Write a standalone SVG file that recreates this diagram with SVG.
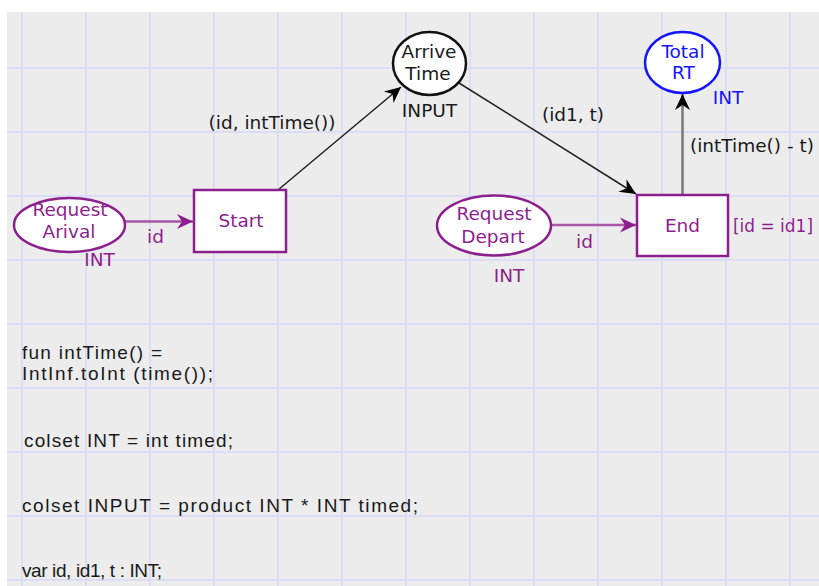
<svg xmlns="http://www.w3.org/2000/svg" width="819" height="586" viewBox="0 0 819 586">
<defs>
<style>
.t{font-family:"DejaVu Sans","Verdana",sans-serif;font-size:18.5px;}
.c{text-anchor:middle;}
.pu{fill:#8c1f8e;}
.bl{fill:#1a1a1a;}
.blue{fill:#1414ff;}
.decl{font-family:"Liberation Sans","Arial",sans-serif;font-size:19px;fill:#1a1a1a;}
.grid line{stroke:#dcdcf6;stroke-width:2;}
</style>
<marker id="ah-b" viewBox="-17 -8 18 16" refX="0" refY="0" markerWidth="18" markerHeight="16" markerUnits="userSpaceOnUse" orient="auto">
<path d="M0,0 L-16,-7.5 L-11,0 L-16,7.5 z" fill="#000"/>
</marker>
<marker id="ah-p" viewBox="-17 -8 18 16" refX="0" refY="0" markerWidth="18" markerHeight="16" markerUnits="userSpaceOnUse" orient="auto">
<path d="M0,0 L-16,-7.5 L-11,0 L-16,7.5 z" fill="#8c1f8e"/>
</marker>
</defs>
<rect x="0" y="0" width="819" height="586" fill="#fff"/>
<rect x="7" y="12" width="812" height="574" fill="#ececec"/>
<g class="grid">
<line x1="22" y1="12" x2="22" y2="586"/>
<line x1="86" y1="12" x2="86" y2="586"/>
<line x1="150" y1="12" x2="150" y2="586"/>
<line x1="214" y1="12" x2="214" y2="586"/>
<line x1="278" y1="12" x2="278" y2="586"/>
<line x1="342" y1="12" x2="342" y2="586"/>
<line x1="406" y1="12" x2="406" y2="586"/>
<line x1="470" y1="12" x2="470" y2="586"/>
<line x1="534" y1="12" x2="534" y2="586"/>
<line x1="598" y1="12" x2="598" y2="586"/>
<line x1="662" y1="12" x2="662" y2="586"/>
<line x1="726" y1="12" x2="726" y2="586"/>
<line x1="790" y1="12" x2="790" y2="586"/>
<line x1="7" y1="68" x2="819" y2="68"/>
<line x1="7" y1="132" x2="819" y2="132"/>
<line x1="7" y1="196" x2="819" y2="196"/>
<line x1="7" y1="260" x2="819" y2="260"/>
<line x1="7" y1="324" x2="819" y2="324"/>
<line x1="7" y1="388" x2="819" y2="388"/>
<line x1="7" y1="452" x2="819" y2="452"/>
<line x1="7" y1="516" x2="819" y2="516"/>
<line x1="7" y1="580" x2="819" y2="580"/>
</g>
<g id="connectors">
<line x1="125" y1="221.5" x2="193" y2="221.5" stroke="#a857a9" stroke-width="2.5" marker-end="url(#ah-p)"/>
<line x1="278" y1="190" x2="401" y2="87" stroke="#222" stroke-width="1.5" marker-end="url(#ah-b)"/>
<line x1="459" y1="83" x2="636" y2="194" stroke="#222" stroke-width="1.5" marker-end="url(#ah-b)"/>
<line x1="551" y1="225" x2="636" y2="225" stroke="#a857a9" stroke-width="2.5" marker-end="url(#ah-p)"/>
<line x1="682.5" y1="195" x2="682.5" y2="94" stroke="#777" stroke-width="2.5" marker-end="url(#ah-b)"/>
<text class="t c bl" x="272" y="129">(id, intTime())</text>
<text class="t c bl" x="573" y="121">(id1, t)</text>
<text class="t bl" x="690" y="152">(intTime() - t)</text>
<text class="t c pu" x="155.5" y="243">id</text>
<text class="t c pu" x="584.5" y="248">id</text>
</g>
<g id="request-arival">
<ellipse cx="69.5" cy="225" rx="55.5" ry="27" fill="#fff" stroke="#8c1f8e" stroke-width="2.5"/>
<text class="t c pu" x="70" y="216">Request</text>
<text class="t c pu" x="69" y="238">Arival</text>
<text class="t c pu" x="99.5" y="266">INT</text>
</g>
<g id="start">
<rect x="194" y="190" width="92" height="62" fill="#fff" stroke="#8c1f8e" stroke-width="2.5"/>
<text class="t c pu" x="241" y="227">Start</text>
</g>
<g id="arrive-time">
<ellipse cx="429.5" cy="63.5" rx="36.5" ry="31.5" fill="#fff" stroke="#111" stroke-width="2.5"/>
<text class="t c bl" x="429" y="58">Arrive</text>
<text class="t c bl" x="428" y="80">Time</text>
<text class="t c bl" x="429.5" y="117">INPUT</text>
</g>
<g id="request-depart">
<ellipse cx="494" cy="225.5" rx="57" ry="30" fill="#fff" stroke="#8c1f8e" stroke-width="2.5"/>
<text class="t c pu" x="494" y="220">Request</text>
<text class="t c pu" x="493" y="243">Depart</text>
<text class="t c pu" x="509" y="282">INT</text>
</g>
<g id="end">
<rect x="637" y="195" width="91" height="61" fill="#fff" stroke="#8c1f8e" stroke-width="2.5"/>
<text class="t c pu" x="682.5" y="232">End</text>
<text class="t pu" x="733" y="232" textLength="80" lengthAdjust="spacingAndGlyphs">[id = id1]</text>
</g>
<g id="total-rt">
<ellipse cx="682.5" cy="62.5" rx="37.5" ry="30.5" fill="#fff" stroke="#1414ff" stroke-width="2.5"/>
<text class="t c blue" x="683" y="58">Total</text>
<text class="t c blue" x="683.5" y="79">RT</text>
<text class="t c blue" x="728" y="104">INT</text>
</g>
<g id="declarations">
<text class="decl" x="22" y="359" textLength="140" lengthAdjust="spacing">fun intTime() =</text>
<text class="decl" x="22" y="380" textLength="191" lengthAdjust="spacing">IntInf.toInt (time());</text>
<text class="decl" x="24" y="447" textLength="209" lengthAdjust="spacing">colset INT = int timed;</text>
<text class="decl" x="22" y="512" textLength="396" lengthAdjust="spacing">colset INPUT = product INT * INT timed;</text>
<text class="decl" x="22" y="577" textLength="140" lengthAdjust="spacing">var id, id1, t : INT;</text>
</g>
</svg>
